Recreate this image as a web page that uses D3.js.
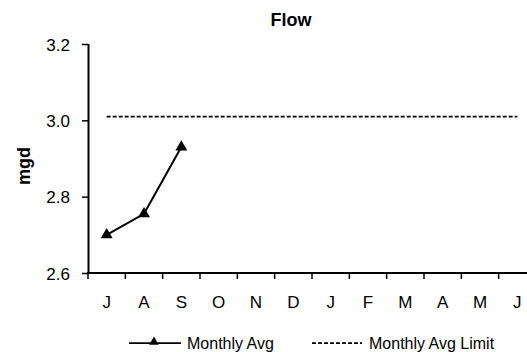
<!DOCTYPE html>
<html lang="en">
<head>
  <meta charset="UTF-8">
  <title>Flow</title>
  <script src="https://d3js.org/d3.v7.min.js"></script>
  <style>
    body { margin: 0; background: #fff; }
    svg { display: block; font-family: Arial, "Liberation Sans", sans-serif; }
    .tick text { font-size: 17px; fill: #000; font-family: Arial, "Liberation Sans", sans-serif; }
    .title { font-size: 18px; font-weight: bold; }
    .axis-label { font-size: 18px; font-weight: bold; }
    .legend text { font-size: 16px; }
  </style>
</head>
<body>
  <svg id="chart"></svg>
  <script>
    // Data
    const months = ["J", "A", "S", "O", "N", "D", "J", "F", "M", "A", "M", "J"];
    const monthlyAvg = [2.70, 2.755, 2.93];
    const monthlyLimit = 3.01;
    const yTicks = [2.6, 2.8, 3.0, 3.2];

    const W = 527, H = 352;
    const margin = {top: 44, left: 88};
    const plotRight = 536, plotBottom = 273;

    const svg = d3.select("#chart").attr("width", W).attr("height", H);

    const x = d3.scaleBand()
      .domain(d3.range(months.length))
      .range([margin.left, plotRight]);
    const y = d3.scaleLinear()
      .domain([2.6, 3.2])
      .range([plotBottom, margin.top]);

    // Title
    svg.append("text").attr("class", "title")
      .attr("x", 291).attr("y", 26)
      .attr("text-anchor", "middle")
      .text("Flow");

    // Y axis label
    svg.append("text").attr("class", "axis-label")
      .attr("transform", "translate(30,166) rotate(-90)")
      .attr("text-anchor", "middle")
      .text("mgd");

    // Y axis
    const yAxis = svg.append("g")
      .attr("transform", `translate(${margin.left},0)`)
      .call(d3.axisLeft(y).tickValues(yTicks).tickFormat(d3.format(".1f")).tickSize(6).tickPadding(12));
    yAxis.select(".domain").attr("stroke", "#000").attr("stroke-width", 2)
      .attr("d", `M0.5,${margin.top}V${plotBottom}`);
    yAxis.selectAll(".tick line").attr("stroke-width", 1.5);
    yAxis.selectAll(".tick text").attr("dy", "0.36em");

    // X axis: ticks at band edges, labels at band centers
    const xAxis = svg.append("g")
      .attr("transform", `translate(0,${plotBottom})`);
    xAxis.append("line")
      .attr("x1", margin.left - 1).attr("x2", plotRight)
      .attr("stroke", "#000").attr("stroke-width", 2);
    xAxis.selectAll(".xtick")
      .data(d3.range(months.length + 1))
      .join("line")
      .attr("class", "xtick")
      .attr("x1", i => x.step() * i + margin.left)
      .attr("x2", i => x.step() * i + margin.left)
      .attr("y1", 0).attr("y2", 6)
      .attr("stroke", "#000").attr("stroke-width", 1.5);
    xAxis.selectAll(".xlabel")
      .data(months)
      .join("text")
      .attr("class", "xlabel")
      .attr("x", (d, i) => x(i) + x.bandwidth() / 2)
      .attr("y", 35)
      .attr("text-anchor", "middle")
      .style("font-size", "17px")
      .text(d => d);

    const cx = i => x(i) + x.bandwidth() / 2;

    // Limit line
    svg.append("line")
      .attr("x1", cx(0)).attr("x2", cx(months.length - 1))
      .attr("y1", y(monthlyLimit)).attr("y2", y(monthlyLimit))
      .attr("stroke", "#000").attr("stroke-width", 1.75)
      .attr("stroke-dasharray", "4,2");

    // Monthly avg line
    const line = d3.line().x((d, i) => cx(i)).y(d => y(d));
    svg.append("path")
      .datum(monthlyAvg)
      .attr("fill", "none").attr("stroke", "#000").attr("stroke-width", 2)
      .attr("d", line);

    const tri = d3.symbol().type(d3.symbolTriangle).size(62);
    svg.selectAll(".pt")
      .data(monthlyAvg)
      .join("path")
      .attr("class", "pt")
      .attr("transform", (d, i) => `translate(${cx(i)},${y(d)})`)
      .attr("d", tri)
      .attr("fill", "#000");

    // Legend
    const lg = svg.append("g").attr("class", "legend").attr("transform", "translate(0,343)");
    lg.append("line").attr("x1", 129).attr("x2", 181).attr("y1", 0).attr("y2", 0)
      .attr("stroke", "#000").attr("stroke-width", 1.75);
    lg.append("path").attr("transform", "translate(154,-1)")
      .attr("d", d3.symbol().type(d3.symbolTriangle).size(40)).attr("fill", "#000");
    lg.append("text").attr("x", 187).attr("y", 5.5).text("Monthly Avg");
    lg.append("line").attr("x1", 312).attr("x2", 362).attr("y1", 0).attr("y2", 0)
      .attr("stroke", "#000").attr("stroke-width", 1.75).attr("stroke-dasharray", "4,2");
    lg.append("text").attr("x", 369).attr("y", 5.5).text("Monthly Avg Limit");
  </script>
</body>
</html>
